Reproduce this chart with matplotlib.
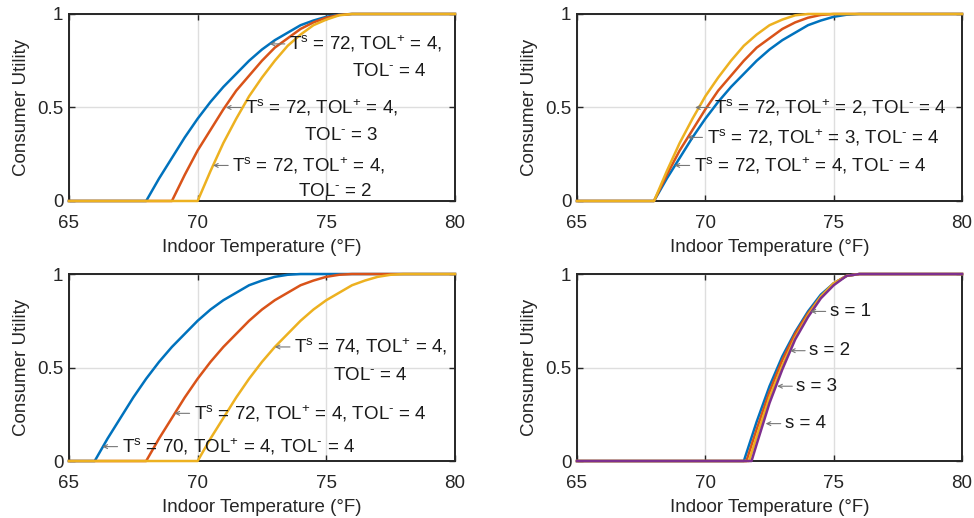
import matplotlib
matplotlib.use("Agg")
import matplotlib.pyplot as plt

plt.rcParams['font.family'] = ['Liberation Sans', 'DejaVu Sans']
plt.rcParams['mathtext.default'] = 'regular'

# MATLAB default line colours
BLUE = '#0072BD'
RED = '#D95319'
YELLOW = '#EDB120'
PURPLE = '#7E2F8E'

# top-left: TOL- varies
tl_blue_x = [65, 68, 68.5, 69, 69.5, 70, 70.5, 71, 71.5, 72, 72.5, 73, 73.5, 74, 74.5, 75, 75.5, 76, 80]
tl_blue_y = [0, 0, 0.12, 0.23, 0.34, 0.44, 0.53, 0.61, 0.68, 0.75, 0.81, 0.86, 0.90, 0.94, 0.965, 0.985, 0.996, 1, 1]
tl_red_x = [65, 69, 69.5, 70, 70.5, 71, 71.5, 72, 72.5, 73, 73.5, 74, 74.5, 75, 75.5, 76, 80]
tl_red_y = [0, 0, 0.14, 0.27, 0.38, 0.49, 0.59, 0.67, 0.75, 0.82, 0.87, 0.92, 0.955, 0.98, 0.995, 1, 1]
tl_yellow_x = [65, 70, 70.5, 71, 71.5, 72, 72.5, 73, 73.5, 74, 74.5, 75, 75.5, 76, 80]
tl_yellow_y = [0, 0, 0.16, 0.31, 0.44, 0.56, 0.66, 0.75, 0.83, 0.89, 0.94, 0.97, 0.993, 1, 1]

# top-right: TOL+ varies
tr_blue_x = [65, 68, 68.5, 69, 69.5, 70, 70.5, 71, 71.5, 72, 72.5, 73, 73.5, 74, 74.5, 75, 75.5, 76, 80]
tr_blue_y = [0, 0, 0.12, 0.23, 0.34, 0.44, 0.53, 0.61, 0.68, 0.75, 0.81, 0.86, 0.90, 0.94, 0.965, 0.985, 0.996, 1, 1]
tr_red_x = [65, 68, 68.5, 69, 69.5, 70, 70.5, 71, 71.5, 72, 72.5, 73, 73.5, 74, 74.5, 75, 80]
tr_red_y = [0, 0, 0.14, 0.27, 0.38, 0.49, 0.59, 0.67, 0.75, 0.82, 0.87, 0.92, 0.955, 0.98, 0.995, 1, 1]
tr_yellow_x = [65, 68, 68.5, 69, 69.5, 70, 70.5, 71, 71.5, 72, 72.5, 73, 73.5, 74, 80]
tr_yellow_y = [0, 0, 0.16, 0.31, 0.44, 0.56, 0.66, 0.75, 0.83, 0.89, 0.94, 0.97, 0.993, 1, 1]

# bottom-left: Ts varies
bl_blue_x = [65, 66, 66.5, 67, 67.5, 68, 68.5, 69, 69.5, 70, 70.5, 71, 71.5, 72, 72.5, 73, 73.5, 74, 80]
bl_blue_y = [0, 0, 0.12, 0.23, 0.34, 0.44, 0.53, 0.61, 0.68, 0.75, 0.81, 0.86, 0.90, 0.94, 0.965, 0.985, 0.996, 1, 1]
bl_red_x = [65, 68, 68.5, 69, 69.5, 70, 70.5, 71, 71.5, 72, 72.5, 73, 73.5, 74, 74.5, 75, 75.5, 76, 80]
bl_red_y = [0, 0, 0.12, 0.23, 0.34, 0.44, 0.53, 0.61, 0.68, 0.75, 0.81, 0.86, 0.90, 0.94, 0.965, 0.985, 0.996, 1, 1]
bl_yellow_x = [65, 70, 70.5, 71, 71.5, 72, 72.5, 73, 73.5, 74, 74.5, 75, 75.5, 76, 76.5, 77, 77.5, 78, 80]
bl_yellow_y = [0, 0, 0.12, 0.23, 0.34, 0.44, 0.53, 0.61, 0.68, 0.75, 0.81, 0.86, 0.90, 0.94, 0.965, 0.985, 0.996, 1, 1]

# bottom-right: s varies
br_s1_x = [65, 71.5, 72, 72.5, 73, 73.5, 74, 74.5, 75, 75.5, 76, 80]
br_s1_y = [0, 0, 0.21, 0.40, 0.56, 0.69, 0.80, 0.89, 0.95, 0.99, 1, 1]
br_s2_x = [65, 71.6, 72, 72.5, 73, 73.5, 74, 74.5, 75, 75.5, 76, 80]
br_s2_y = [0, 0, 0.17, 0.37, 0.54, 0.68, 0.79, 0.88, 0.95, 0.99, 1, 1]
br_s3_x = [65, 71.7, 72, 72.5, 73, 73.5, 74, 74.5, 75, 75.5, 76, 80]
br_s3_y = [0, 0, 0.13, 0.34, 0.51, 0.66, 0.78, 0.88, 0.95, 0.99, 1, 1]
br_s4_x = [65, 71.8, 72, 72.5, 73, 73.5, 74, 74.5, 75, 75.5, 76, 80]
br_s4_y = [0, 0, 0.09, 0.31, 0.49, 0.65, 0.77, 0.87, 0.94, 0.99, 1, 1]

TS = 'T$^{s}$'
TP = 'TOL$^{+}$'
TM = 'TOL$^{\u2010}$'

x_ticks = [65, 70, 75, 80]
y_ticks = [0, 0.5, 1]
y_tick_labels = ['0', '0.5', '1']

FS = 13.5
TXT = '#1a1a1a'


def setup_axes(ax):
    ax.set_xlim(65, 80)
    ax.set_ylim(0, 1)
    ax.set_xticks(x_ticks)
    ax.set_yticks(y_ticks)
    ax.set_yticklabels(y_tick_labels)
    ax.tick_params(direction='in', top=True, right=True, length=4, width=1.0,
                   labelsize=FS, color='#262626', labelcolor='#262626')
    ax.tick_params(axis='x', pad=10)
    ax.tick_params(axis='y', pad=4)
    ax.grid(True, color='#dedede', linewidth=1.0)
    ax.set_axisbelow(True)
    for sp in ax.spines.values():
        sp.set_linewidth(1.4)
        sp.set_color('#262626')
    ax.set_xlabel('Indoor Temperature (°F)', fontsize=FS, color='#262626', labelpad=5)
    ax.set_ylabel('Consumer Utility', fontsize=FS, color='#262626', labelpad=5)


def curve(ax, x, y, color):
    ax.plot(x, y, color=color, linewidth=1.8, clip_on=False, zorder=3)


def label(ax, x, y, txt):
    # arrow pointing left at (x, y), text right of it
    ax.annotate(txt, xy=(x, y), xytext=(x + 0.75, y), fontsize=FS, color=TXT,
                ha='left', va='center', zorder=4,
                arrowprops=dict(arrowstyle='->', color='#777777', lw=0.8,
                                shrinkA=1, shrinkB=0, mutation_scale=7))


def main():
    fig = plt.figure(figsize=(9.74, 5.18), dpi=100)
    ax1 = fig.add_axes([0.0708, 0.612, 0.3963, 0.361])
    ax2 = fig.add_axes([0.5924, 0.612, 0.3953, 0.361])
    ax3 = fig.add_axes([0.0708, 0.110, 0.3963, 0.361])
    ax4 = fig.add_axes([0.5924, 0.110, 0.3953, 0.361])

    for ax in (ax1, ax2, ax3, ax4):
        setup_axes(ax)

    # top-left
    curve(ax1, tl_blue_x, tl_blue_y, BLUE)
    curve(ax1, tl_red_x, tl_red_y, RED)
    curve(ax1, tl_yellow_x, tl_yellow_y, YELLOW)
    label(ax1, 72.8, 0.84, TS + ' = 72, ' + TP + ' = 4,')
    ax1.text(76.0, 0.69, TM + ' = 4', fontsize=FS, color=TXT, va='center')
    label(ax1, 71.1, 0.50, TS + ' = 72, ' + TP + ' = 4,')
    ax1.text(74.15, 0.35, TM + ' = 3', fontsize=FS, color=TXT, va='center')
    label(ax1, 70.6, 0.19, TS + ' = 72, ' + TP + ' = 4,')
    ax1.text(73.9, 0.05, TM + ' = 2', fontsize=FS, color=TXT, va='center')

    # top-right
    curve(ax2, tr_blue_x, tr_blue_y, BLUE)
    curve(ax2, tr_red_x, tr_red_y, RED)
    curve(ax2, tr_yellow_x, tr_yellow_y, YELLOW)
    label(ax2, 69.6, 0.50, TS + ' = 72, ' + TP + ' = 2, ' + TM + ' = 4')
    label(ax2, 69.3, 0.34, TS + ' = 72, ' + TP + ' = 3, ' + TM + ' = 4')
    label(ax2, 68.8, 0.19, TS + ' = 72, ' + TP + ' = 4, ' + TM + ' = 4')

    # bottom-left
    curve(ax3, bl_blue_x, bl_blue_y, BLUE)
    curve(ax3, bl_red_x, bl_red_y, RED)
    curve(ax3, bl_yellow_x, bl_yellow_y, YELLOW)
    label(ax3, 73.0, 0.61, TS + ' = 74, ' + TP + ' = 4,')
    ax3.text(75.27, 0.46, TM + ' = 4', fontsize=FS, color=TXT, va='center')
    label(ax3, 69.1, 0.255, TS + ' = 72, ' + TP + ' = 4, ' + TM + ' = 4')
    label(ax3, 66.3, 0.077, TS + ' = 70, ' + TP + ' = 4, ' + TM + ' = 4')

    # bottom-right
    curve(ax4, br_s1_x, br_s1_y, BLUE)
    curve(ax4, br_s2_x, br_s2_y, RED)
    curve(ax4, br_s3_x, br_s3_y, YELLOW)
    curve(ax4, br_s4_x, br_s4_y, PURPLE)
    label(ax4, 74.1, 0.80, 's = 1')
    label(ax4, 73.3, 0.59, 's = 2')
    label(ax4, 72.8, 0.40, 's = 3')
    label(ax4, 72.35, 0.20, 's = 4')

    fig.savefig('out.png', dpi=100, facecolor='white')


if __name__ == "__main__":
    main()
